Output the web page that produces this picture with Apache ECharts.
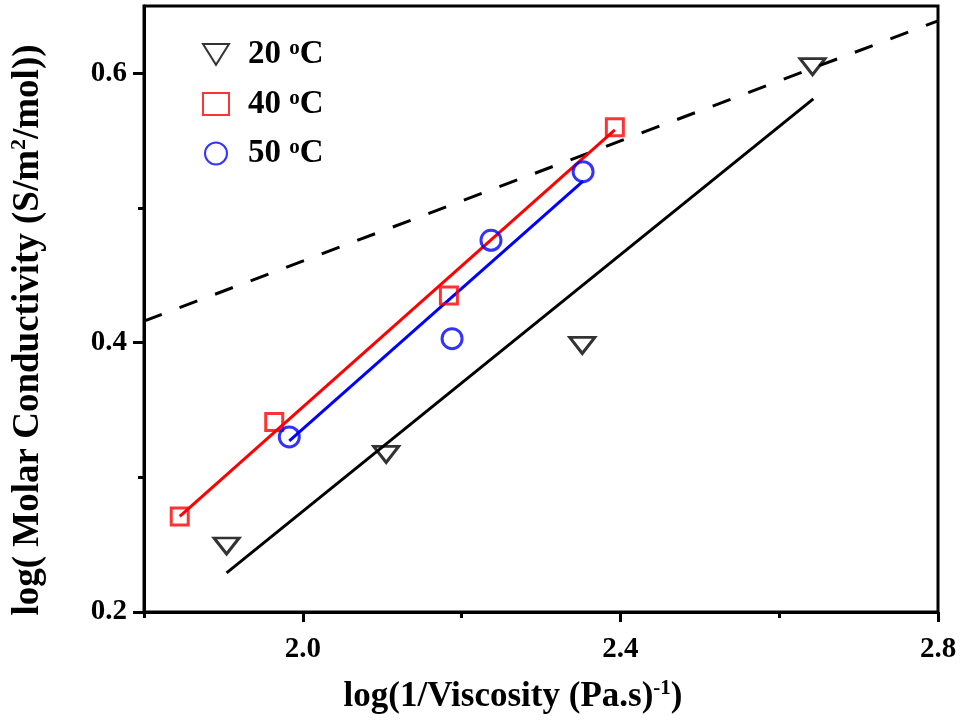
<!DOCTYPE html>
<html><head><meta charset="utf-8">
<script src="https://cdn.jsdelivr.net/npm/echarts@6/dist/echarts.min.js"></script>
<style>html,body{margin:0;padding:0;background:#fff}#c{width:975px;height:721px}</style>
</head><body><div id="c"></div>
<script>
// ---- data ----
const temps = ['20', '40', '50'];
const x20 = [1.904, 2.105, 2.352, 2.642];
const y20 = [0.249, 0.317, 0.398, 0.605];
const x40 = [1.845, 1.964, 2.184, 2.393];
const y40 = [0.271, 0.341, 0.435, 0.560];
const x50 = [1.983, 2.188, 2.237, 2.353];
const y50 = [0.330, 0.403, 0.476, 0.527];
const fit20 = [[1.904, 0.229], [2.643, 0.581]];
const fit40 = [[1.845, 0.271], [2.393, 0.558]];
const fit50 = [[1.983, 0.327], [2.353, 0.520]];
const dashRef = [[1.8, 0.416], [2.8, 0.639]];
const xMajorTicks = [2.0, 2.4, 2.8];
const xMinorTicks = [1.8, 2.2, 2.6];
const yMajorTicks = [0.2, 0.4, 0.6];
const yMinorTicks = [0.3, 0.5];

const FONT = '"Liberation Serif", "Times New Roman", serif';
const zip = (xs, ys) => xs.map((v, i) => [v, ys[i]]);
const hollow = c => ({ color: 'rgba(0,0,0,0)', borderColor: c, borderWidth: 3 });
const triDown = 'path://M0,0L25,0L12.5,20Z';
const richFor = (size, sub, lh, raise) => ({
  a: { fontFamily: FONT, fontWeight: 'bold', fontSize: size, color: '#000', lineHeight: lh },
  s: { fontFamily: FONT, fontWeight: 'bold', fontSize: sub, color: '#000', verticalAlign: 'top', lineHeight: lh, padding: [0, 0, raise, 0] }
});

const chart = echarts.init(document.getElementById('c'), null, { renderer: 'canvas' });
const xBase = { type: 'value', min: 1.8, max: 2.8, gridIndex: 0, position: 'bottom', splitLine: { show: false } };
const yBase = { type: 'value', min: 0.2, max: 0.65, gridIndex: 0, position: 'left', splitLine: { show: false } };

chart.setOption({
  animation: false,
  backgroundColor: '#fff',
  grid: { left: 144, right: 37, top: 6, bottom: 109, show: true, borderColor: '#000', borderWidth: 3, containLabel: false },
  legend: {
    orient: 'vertical', left: 197, top: 33, itemGap: 14, itemWidth: 26, itemHeight: 22,
    data: temps.map(t => t + ' °C'),
    formatter: n => '{a|' + n.split(' ')[0] + ' }{s|o}{a|C}',
    textStyle: {
      color: '#000', fontFamily: FONT, fontWeight: 'bold', fontSize: 33, padding: [0, 0, 0, 14],
      rich: richFor(33, 21, 32, 14)
    }
  },
  xAxis: [
    Object.assign({}, xBase, {
      name: '{a|log(1/Viscosity (Pa.s)}{s|-1}{a|)}',
      nameLocation: 'middle', nameGap: 66,
      nameTextStyle: {
        color: '#000', fontFamily: FONT, fontWeight: 'bold', fontSize: 35, padding: [0, 56, 0, 0],
        rich: richFor(35, 21, 38, 16)
      },
      axisLine: { show: true, lineStyle: { color: '#000', width: 3 } },
      axisTick: { show: true, inside: false, length: 10, lineStyle: { color: '#000', width: 3 }, customValues: xMajorTicks },
      axisLabel: { show: true, margin: 23, color: '#000', fontFamily: FONT, fontWeight: 'bold', fontSize: 29, customValues: xMajorTicks, formatter: v => v.toFixed(1) }
    }),
    Object.assign({}, xBase, {
      axisLine: { show: false },
      axisTick: { show: true, inside: false, length: 6, lineStyle: { color: '#000', width: 3 }, customValues: xMinorTicks },
      axisLabel: { show: false }
    })
  ],
  yAxis: [
    Object.assign({}, yBase, {
      name: '{a|log( Molar Conductivity (S/m}{s|2}{a|/mol))}',
      nameLocation: 'middle', nameGap: 96, nameRotate: 90,
      nameTextStyle: {
        color: '#000', fontFamily: FONT, fontWeight: 'bold', fontSize: 37, padding: [0, 42, 0, 0],
        rich: richFor(37, 22, 40, 16)
      },
      axisLine: { show: true, lineStyle: { color: '#000', width: 3 } },
      axisTick: { show: true, inside: false, length: 11, lineStyle: { color: '#000', width: 3 }, customValues: yMajorTicks },
      axisLabel: { show: true, margin: 17, color: '#000', fontFamily: FONT, fontWeight: 'bold', fontSize: 29, customValues: yMajorTicks, formatter: v => v.toFixed(1) }
    }),
    Object.assign({}, yBase, {
      axisLine: { show: false },
      axisTick: { show: true, inside: false, length: 6, lineStyle: { color: '#000', width: 3 }, customValues: yMinorTicks },
      axisLabel: { show: false }
    })
  ],
  series: [
    { type: 'line', data: dashRef, symbol: 'none', silent: true, lineStyle: { color: '#000', width: 3, type: [19, 19] }, z: 2 },
    { type: 'line', data: fit20, symbol: 'none', silent: true, lineStyle: { color: '#000', width: 3 }, z: 2 },
    { type: 'line', data: fit40, symbol: 'none', silent: true, lineStyle: { color: '#ff0000', width: 3 }, z: 2 },
    { type: 'line', data: fit50, symbol: 'none', silent: true, lineStyle: { color: '#0000ff', width: 3 }, z: 2 },
    { name: temps[0] + ' °C', type: 'scatter', data: zip(x20, y20), symbol: triDown, symbolSize: [25, 20], symbolKeepAspect: true, itemStyle: hollow('#000'), z: 5 },
    { name: temps[1] + ' °C', type: 'scatter', data: zip(x40, y40), symbol: 'rect', symbolSize: 17, symbolKeepAspect: true, itemStyle: hollow('#ff0000'), z: 5 },
    { name: temps[2] + ' °C', type: 'scatter', data: zip(x50, y50), symbol: 'circle', symbolSize: 20, symbolKeepAspect: true, itemStyle: hollow('#0000ff'), z: 5 }
  ]
});
</script></body></html>
